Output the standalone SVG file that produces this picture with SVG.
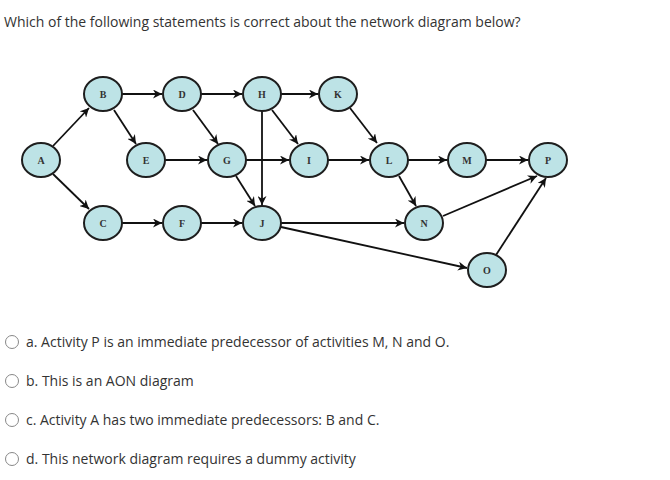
<svg xmlns="http://www.w3.org/2000/svg" width="670" height="480" viewBox="0 0 670 480">
<style>
.t{font-family:"Open Sans",sans-serif;font-size:14px;fill:#333}
.n ellipse{fill:#bde3e6;stroke:#1e1e1e;stroke-width:2}
.n text{font-family:"Liberation Serif",serif;font-size:10px;font-weight:bold;fill:#333;text-anchor:middle}
.e line{stroke:#111;stroke-width:1.8;marker-end:url(#ar)}
.r{fill:#fff;stroke:#888;stroke-width:1}
</style>
<defs><marker id="ar" viewBox="0 0 10 10" refX="10" refY="5" markerWidth="5" markerHeight="5" orient="auto"><path d="M0,0L10,5L0,10L3,5z" fill="#111"/></marker></defs>
<rect width="670" height="480" fill="#fff"/>
<text class="t" x="4" y="27">Which of the following statements is correct about the network diagram below?</text>
<g class="e">
<line x1="53" y1="146" x2="89" y2="108"/>
<line x1="53" y1="174" x2="89" y2="209"/>
<line x1="122" y1="94" x2="162" y2="94"/>
<line x1="114" y1="110" x2="136" y2="144"/>
<line x1="201" y1="94" x2="242" y2="94"/>
<line x1="193" y1="110" x2="218" y2="144"/>
<line x1="281" y1="94" x2="318" y2="94"/>
<line x1="272" y1="110" x2="298" y2="144"/>
<line x1="262" y1="111" x2="262" y2="205"/>
<line x1="165" y1="160" x2="207" y2="160"/>
<line x1="246" y1="160" x2="289" y2="160"/>
<line x1="236" y1="176" x2="255" y2="206"/>
<line x1="328" y1="160" x2="369" y2="160"/>
<line x1="350" y1="108" x2="377" y2="143"/>
<line x1="122" y1="223" x2="162" y2="223"/>
<line x1="201" y1="223" x2="242" y2="223"/>
<line x1="281" y1="223" x2="404" y2="223"/>
<line x1="281" y1="227" x2="467" y2="268"/>
<line x1="408" y1="160" x2="447" y2="160"/>
<line x1="399" y1="176" x2="416" y2="206"/>
<line x1="486" y1="160" x2="528" y2="160"/>
<line x1="443" y1="216" x2="537" y2="176"/>
<line x1="496" y1="255" x2="546" y2="178"/>
</g>
<g class="n" id="A"><ellipse cx="41" cy="160" rx="19" ry="17"/><text x="41" y="164">A</text></g>
<g class="n" id="B"><ellipse cx="103" cy="94" rx="19" ry="17"/><text x="103" y="98">B</text></g>
<g class="n" id="C"><ellipse cx="103" cy="223" rx="19" ry="17"/><text x="103" y="227">C</text></g>
<g class="n" id="D"><ellipse cx="182" cy="94" rx="19" ry="17"/><text x="182" y="98">D</text></g>
<g class="n" id="E"><ellipse cx="146" cy="160" rx="19" ry="17"/><text x="146" y="164">E</text></g>
<g class="n" id="F"><ellipse cx="182" cy="223" rx="19" ry="17"/><text x="182" y="227">F</text></g>
<g class="n" id="G"><ellipse cx="227" cy="160" rx="19" ry="17"/><text x="227" y="164">G</text></g>
<g class="n" id="H"><ellipse cx="262" cy="94" rx="19" ry="17"/><text x="262" y="98">H</text></g>
<g class="n" id="I"><ellipse cx="309" cy="160" rx="19" ry="17"/><text x="309" y="164">I</text></g>
<g class="n" id="J"><ellipse cx="262" cy="223" rx="19" ry="17"/><text x="262" y="227">J</text></g>
<g class="n" id="K"><ellipse cx="338" cy="94" rx="19" ry="17"/><text x="338" y="98">K</text></g>
<g class="n" id="L"><ellipse cx="389" cy="160" rx="19" ry="17"/><text x="389" y="164">L</text></g>
<g class="n" id="M"><ellipse cx="467" cy="160" rx="19" ry="17"/><text x="467" y="164">M</text></g>
<g class="n" id="N"><ellipse cx="424" cy="223" rx="19" ry="17"/><text x="424" y="227">N</text></g>
<g class="n" id="O"><ellipse cx="487" cy="270" rx="19" ry="17"/><text x="487" y="274">O</text></g>
<g class="n" id="P"><ellipse cx="548" cy="160" rx="19" ry="17"/><text x="548" y="164">P</text></g>
<circle class="r" cx="12" cy="342" r="6.5"/><text class="t" x="26" y="347">a. Activity P is an immediate predecessor of activities M, N and O.</text>
<circle class="r" cx="12" cy="381" r="6.5"/><text class="t" x="26" y="386">b. This is an AON diagram</text>
<circle class="r" cx="12" cy="420" r="6.5"/><text class="t" x="26" y="425">c. Activity A has two immediate predecessors: B and C.</text>
<circle class="r" cx="12" cy="459" r="6.5"/><text class="t" x="26" y="464">d. This network diagram requires a dummy activity</text>
</svg>
